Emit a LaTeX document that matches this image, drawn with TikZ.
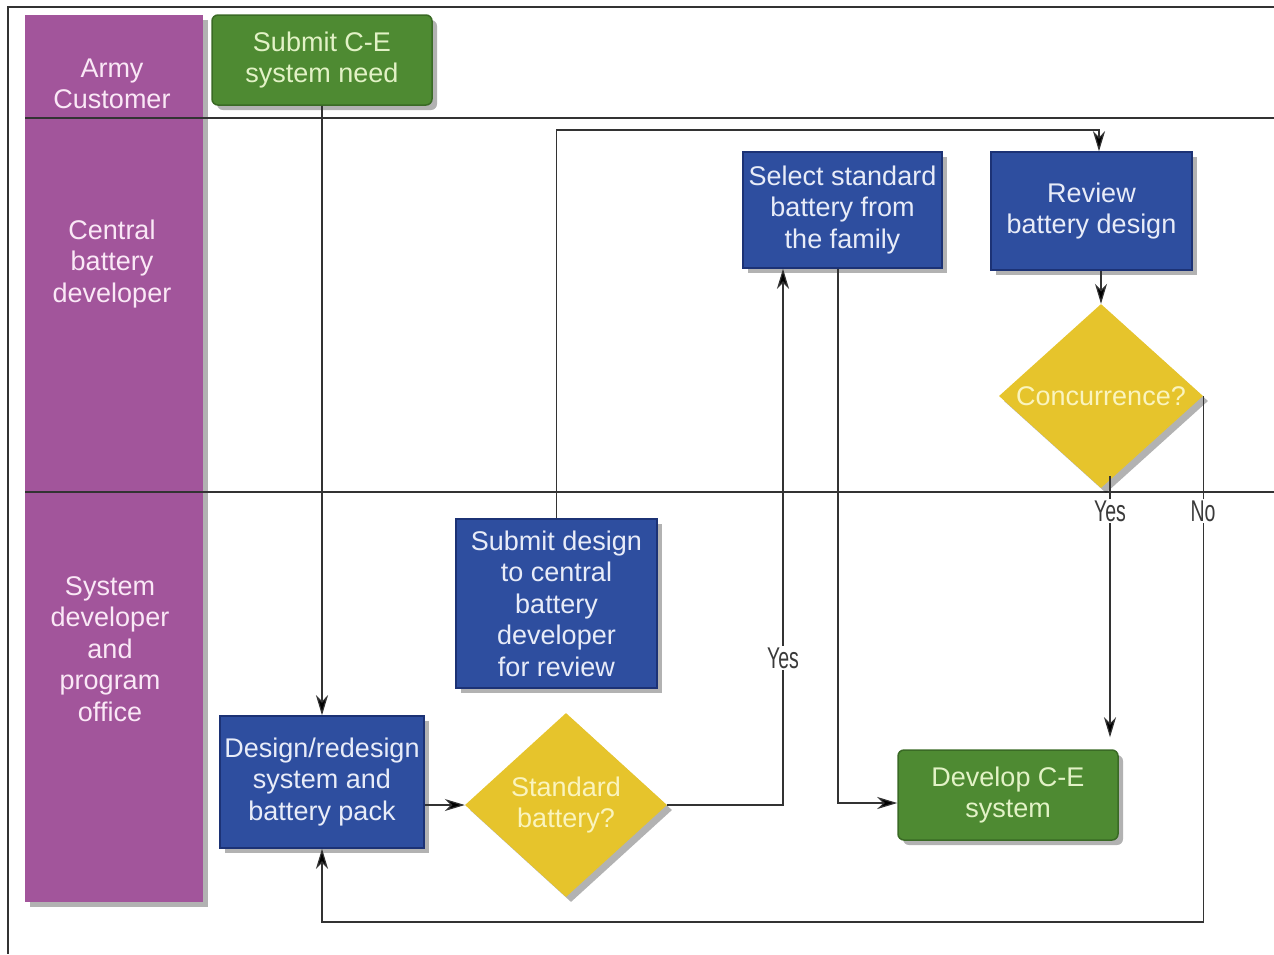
\documentclass[tikz,border=0pt]{standalone}
\usepackage{fontspec}
\setmainfont{Liberation Sans}
\newfontfamily\condfont{Liberation Sans}[FakeStretch=0.65]
\usetikzlibrary{shapes.geometric,shadows,arrows.meta}
\definecolor{boxblue}{HTML}{2E4E9F}
\definecolor{blueedge}{HTML}{1C3275}
\definecolor{bluetext}{HTML}{E8ECF8}
\definecolor{boxgreen}{HTML}{4E8A32}
\definecolor{greenedge}{HTML}{3A6A25}
\definecolor{greentext}{HTML}{E2F2C6}
\definecolor{lanepurple}{HTML}{A2559B}
\definecolor{lanetext}{HTML}{FAE8F6}
\definecolor{decyellow}{HTML}{E6C42C}
\definecolor{dectext}{HTML}{FAF4BE}
\definecolor{linecol}{HTML}{333333}
\definecolor{lblcol}{HTML}{3A3A3A}
\newcommand\bxfont{\fontsize{27pt}{31.5pt}\selectfont}
\begin{document}
\begin{tikzpicture}[x=1pt,y=-1pt,
  shade/.style={drop shadow={shadow xshift=5pt,shadow yshift=-5pt,fill=black,opacity=0.3}},
  bluebox/.style={shade,draw=blueedge,line width=1.5pt,fill=boxblue,text=bluetext,
    align=center,inner sep=2pt,font=\bxfont},
  greenbox/.style={shade,draw=greenedge,line width=1.5pt,fill=boxgreen,text=greentext,
    rounded corners=6pt,align=center,inner sep=2pt,font=\bxfont,
    minimum width=220pt,minimum height=90pt},
  dec/.style={shade,diamond,fill=decyellow,text=dectext,inner sep=0pt,aspect=1.1,
    align=center,font=\bxfont},
  lanebg/.style={shade,fill=lanepurple,inner sep=0pt},
  lane/.style={text=lanetext,align=center,font=\bxfont},
  sep/.style={draw=linecol,line width=1.2pt},
  frame/.style={draw=linecol,line width=1.5pt},
  flow/.style={draw=linecol,line width=1.2pt,-{Stealth[length=20pt,width=12pt,inset=6pt,fill=black]}},
  lbl/.style={fill=white,text=lblcol,inner sep=2pt,
    font=\condfont\fontsize{30pt}{32pt}\selectfont}
]
\useasboundingbox (0,0) rectangle (1274,954);
\draw[frame] (1274,7) -- (8,7) -- (8,954);

% lane header bar
\node[lanebg,minimum width=178pt,minimum height=887pt] (lanebar) at (114,458.5) {};
\node[lane] (lane1) at (112,84) {Army\\Customer};
\node[lane] (lane2) at (112,264) {Central\\battery\\developer};
\node[lane] (lane3) at (110,649) {System\\developer\\and\\program\\office};

% lane separators
\draw[sep] (25,118) -- (1274,118);
\draw[sep] (25,492) -- (1274,492);

% process nodes
\node[greenbox] (subce) at (322,60) {Submit C-E\\system need};
\node[bluebox,minimum width=199pt,minimum height=116pt] (select) at (842.5,210)
  {Select standard\\battery from\\the family};
\node[bluebox,minimum width=201pt,minimum height=118pt] (review) at (1091.5,211)
  {Review\\battery design};
\node[dec,minimum width=204pt,minimum height=184pt] (conc) at (1101,396) {Concurrence?};
\node[bluebox,minimum width=201pt,minimum height=169pt] (subdesign) at (556.5,603.5)
  {Submit design\\to central\\battery\\developer\\for review};
\node[bluebox,minimum width=204pt,minimum height=132pt] (design) at (322,782)
  {Design/redesign\\system and\\battery pack};
\node[dec,minimum width=202pt,minimum height=184pt] (std) at (566,805) {Standard\\battery?};
\node[greenbox] (develop) at (1008,795) {Develop C-E\\system};

% connectors
\coordinate (yx) at (783,0);
\coordinate (topy) at (0,130);
\coordinate (boty) at (0,922);

\draw[flow] (subce.south) -- (design.north);
\draw[flow] (design.east |- std.west) -- (std.west);
\draw[flow] (std.east) -| (yx |- select.south);
\node[lbl] (yes1) at (783,658) {Yes};
\draw[flow] ([xshift=-4.5pt]select.south) |- ([yshift=-8pt]develop.west);
\draw[flow] (subdesign.north) -- (subdesign.north |- topy) -| ([xshift=7.5pt]review.north);
\draw[flow] ([xshift=9.5pt]review.south) -- (conc.north);
\draw[flow] ([xshift=9pt,yshift=12pt]conc.south) -- ([xshift=9pt,yshift=12pt]conc.south |- develop.north);
\node[lbl] (yes2) at (1110,511) {Yes};
\draw[flow] (conc.east) -- (conc.east |- boty) -| (design.south);
\node[lbl] (no) at (1203,511) {No};
\end{tikzpicture}
\end{document}
